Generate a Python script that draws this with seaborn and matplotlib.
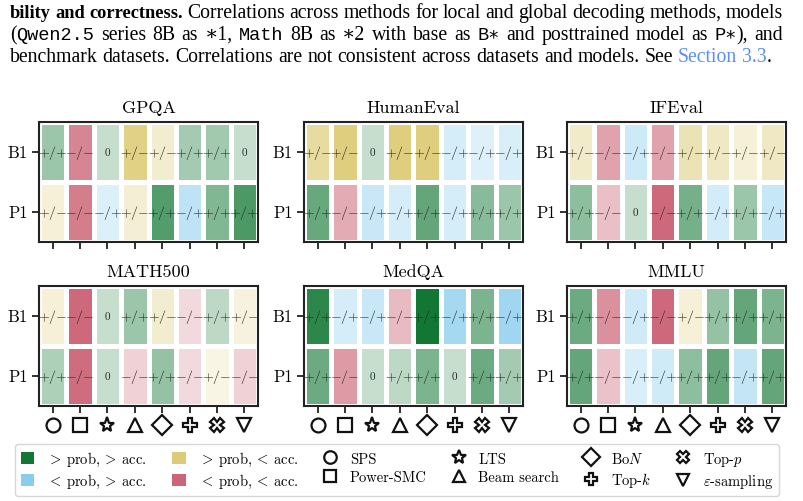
import numpy as np
import seaborn as sns
import matplotlib.pyplot as plt
from matplotlib.colors import ListedColormap, to_rgb
from matplotlib.lines import Line2D
from matplotlib.patches import Patch
from matplotlib.transforms import blended_transform_factory

plt.rcParams['font.family'] = 'serif'
plt.rcParams['font.serif'] = ['cmr10']
plt.rcParams['mathtext.fontset'] = 'cm'
plt.rcParams['axes.formatter.use_mathtext'] = True

datasets = ["GPQA", "HumanEval", "IFEval", "MATH500", "MedQA", "MMLU"]
models = ["B1", "P1"]
methods = ["SPS", "Power-SMC", "LTS", "Beam search", "Bo$N$", "Top-$k$", "Top-$p$", r"$\varepsilon$-sampling"]
method_markers = ["o", "s", "*", "^", "D", "P", "X", "v"]

# sign of (prob corr / acc corr) per cell, "0" = no correlation
gpqa_signs = [["+/+", "-/-", "0", "+/-", "+/-", "+/+", "+/+", "0"],
              ["+/-", "-/-", "-/+", "+/-", "+/+", "-/+", "+/+", "+/+"]]
humaneval_signs = [["+/-", "+/-", "0", "+/-", "+/-", "-/+", "-/+", "-/+"],
                   ["+/+", "-/-", "-/+", "-/+", "+/+", "-/+", "+/+", "+/+"]]
ifeval_signs = [["+/-", "-/-", "-/+", "-/-", "+/-", "+/-", "+/-", "+/-"],
                ["+/+", "-/-", "0", "-/-", "+/+", "-/+", "+/+", "-/+"]]
math500_signs = [["+/-", "-/-", "0", "+/+", "+/-", "-/-", "+/+", "+/-"],
                 ["+/+", "-/-", "0", "-/-", "+/+", "-/-", "+/-", "-/-"]]
medqa_signs = [["+/+", "-/+", "-/+", "-/-", "+/+", "-/+", "+/+", "-/+"],
               ["+/+", "-/-", "0", "+/+", "+/+", "0", "+/+", "+/+"]]
mmlu_signs = [["+/+", "-/-", "-/+", "-/-", "+/-", "+/+", "+/+", "+/+"],
              ["+/+", "-/-", "-/+", "-/+", "+/+", "+/+", "-/+", "+/+"]]

# colour strength (0..1) per cell
gpqa_strength = [[0.42, 0.80, 0.24, 0.90, 0.35, 0.38, 0.40, 0.24],
                 [0.30, 0.85, 0.30, 0.32, 0.72, 0.55, 0.53, 0.75]]
humaneval_strength = [[0.70, 0.95, 0.24, 0.95, 0.95, 0.35, 0.28, 0.33],
                      [0.64, 0.55, 0.45, 0.35, 0.65, 0.35, 0.50, 0.42]]
ifeval_strength = [[0.40, 0.60, 0.42, 0.60, 0.55, 0.45, 0.30, 0.45],
                   [0.48, 0.42, 0.24, 0.98, 0.58, 0.38, 0.42, 0.48]]
math500_strength = [[0.30, 0.98, 0.24, 0.42, 0.35, 0.25, 0.28, 0.25],
                    [0.35, 0.95, 0.24, 0.30, 0.45, 0.25, 0.20, 0.30]]
medqa_strength = [[0.88, 0.35, 0.45, 0.45, 1.00, 0.75, 0.55, 0.80],
                  [0.62, 0.65, 0.24, 0.28, 0.55, 0.24, 0.62, 0.38]]
mmlu_strength = [[0.62, 0.72, 0.40, 0.98, 0.30, 0.45, 0.65, 0.55],
                 [0.65, 0.40, 0.33, 0.40, 0.48, 0.65, 0.50, 0.65]]

all_signs = [gpqa_signs, humaneval_signs, ifeval_signs, math500_signs, medqa_signs, mmlu_signs]
all_strength = [gpqa_strength, humaneval_strength, ifeval_strength,
                math500_strength, medqa_strength, mmlu_strength]

# Tol muted colours
cat_colors = ["#117733", "#88CCEE", "#DDCC77", "#CC6677"]
cat_labels = [r"$>\!$ prob, $\!>\!$ acc.", r"$<\!$ prob, $\!>\!$ acc.",
              r"$>\!$ prob, $\!<\!$ acc.", r"$<\!$ prob, $\!<\!$ acc."]
sign_to_cat = {"+/+": 0, "0": 0, "-/+": 1, "+/-": 2, "-/-": 3}
sign_to_tex = {"+/+": "${+}/{+}$", "-/+": "${-}/{+}$", "+/-": "${+}/{-}$",
               "-/-": "${-}/{-}$", "0": "0"}

# one colormap made of four white->colour ramps
ramps = []
for c in cat_colors:
    rgb = np.array(to_rgb(c))
    a = np.linspace(0, 1, 256)[:, None]
    ramps.append((1 - a) + a * rgb)
cmap = ListedColormap(np.vstack(ramps))

fig = plt.figure(figsize=(8.04, 5.02), dpi=100)

lefts = [39, 304, 567]
bottoms = [243, 407]
W, H = 804, 502

for k, name in enumerate(datasets):
    r, c = divmod(k, 3)
    ax = fig.add_axes([lefts[c] / W, (H - bottoms[r]) / H, 219 / W, 120 / H])
    signs = all_signs[k]
    strength = np.array(all_strength[k])
    cats = np.array([[sign_to_cat[s] for s in row] for row in signs])
    vals = cats + np.minimum(strength, 0.999)
    annot = np.array([[sign_to_tex[s] for s in row] for row in signs])
    sns.heatmap(vals, cmap=cmap, vmin=0, vmax=4, annot=annot, fmt="",
                cbar=False, linewidths=2.2, linecolor="white", ax=ax,
                annot_kws={"color": "#262626", "fontsize": 10})
    for t in ax.texts:
        if t.get_text() == "0":
            t.set_fontsize(8)
    for sp in ax.spines.values():
        sp.set_visible(True)
        sp.set_color("#222222")
        sp.set_linewidth(1.5)
    ax.set_yticks([0.5, 1.5])
    ax.set_yticklabels(models, rotation=0, fontsize=12)
    ax.set_xticks(np.arange(8) + 0.5)
    ax.set_xticklabels([])
    ax.tick_params(axis="both", length=5, width=1.3, color="#222222", pad=3)
    ax.set_title(name, fontsize=13, pad=7)
    if r == 1:
        tr = blended_transform_factory(ax.transData, ax.transAxes)
        for j, m in enumerate(method_markers):
            ax.plot(j + 0.5, -0.155, marker=m, markersize=10 if m != "*" else 11,
                    mfc="white", mec="#111111", mew=1.6, transform=tr,
                    clip_on=False, linestyle="none")

# legend
handles = [Patch(facecolor=c, edgecolor="none") for c in cat_colors]
handles += [Line2D([], [], marker=m, linestyle="none", markersize=9 if m != "*" else 10,
                   mfc="white", mec="#111111", mew=1.6) for m in method_markers]
labels = cat_labels + methods
fig.legend(handles, labels, loc="lower center", bbox_to_anchor=(0.494, 0.01),
           borderaxespad=0, ncol=6, fontsize=10.5, frameon=True, fancybox=True,
           edgecolor="#cccccc", handlelength=0.9, handleheight=0.9, handletextpad=0.9,
           columnspacing=1.75, labelspacing=0.3, borderpad=0.4)

# caption lines from the paper (top of the screenshot), justified like the pdf
renderer = fig.canvas.get_renderer()
serif = ["Liberation Serif", "DejaVu Serif"]
mono = ["Liberation Mono", "DejaVu Sans Mono"]
N = {"size": 14.2, "family": serif}
B = {"size": 13.2, "family": serif, "weight": "bold"}
M = {"size": 13.4, "family": mono}
L = {"size": 14.2, "family": serif, "color": "#5b8ff0"}


def make_text(x, y, s, st):
    return fig.text(x / W, 1 - y / H, s, va="baseline", ha="left",
                    fontsize=st["size"], family=st["family"],
                    weight=st.get("weight", "normal"), color=st.get("color", "black"))


def caption_line(y, pieces, right=None, x0=10):
    words = [[]]
    for s, st in pieces:
        parts = s.split(" ")
        for i, p in enumerate(parts):
            if i > 0:
                words.append([])
            if p:
                words[-1].append((p, st))
    words = [w for w in words if w]
    arts = []
    widths = []
    for w in words:
        row = []
        tot = 0
        for s, st in w:
            t = make_text(0, y, s, st)
            bw = t.get_window_extent(renderer).width
            row.append((t, bw))
            tot += bw
        arts.append(row)
        widths.append(tot)
    sp = make_text(0, y, "a a", N).get_window_extent(renderer).width - \
        2 * make_text(0, y, "a", N).get_window_extent(renderer).width
    for t in fig.texts[-2:]:
        t.remove()
    gaps = len(words) - 1
    if right is not None:
        sp = (right - x0 - sum(widths)) / gaps
    x = x0
    for row in arts:
        for t, bw in row:
            t.set_x(x / W)
            x += bw
        x += sp


caption_line(18, [("bility and correctness.", B),
                  (" Correlations across methods for local and global decoding methods, models", N)],
             right=783)
caption_line(40, [("(", N), ("Qwen2.5", M), (" series 8B as \u22171, ", N), ("Math", M),
                  (" 8B as \u22172 with base as ", N), ("B\u2217", M),
                  (" and posttrained model as ", N), ("P\u2217", M), ("), and", N)],
             right=783)
caption_line(62, [("benchmark datasets. Correlations are not consistent across datasets and models. See ", N),
                  ("Section 3.3", L), (".", N)])

fig.savefig("out.png", dpi=100)
